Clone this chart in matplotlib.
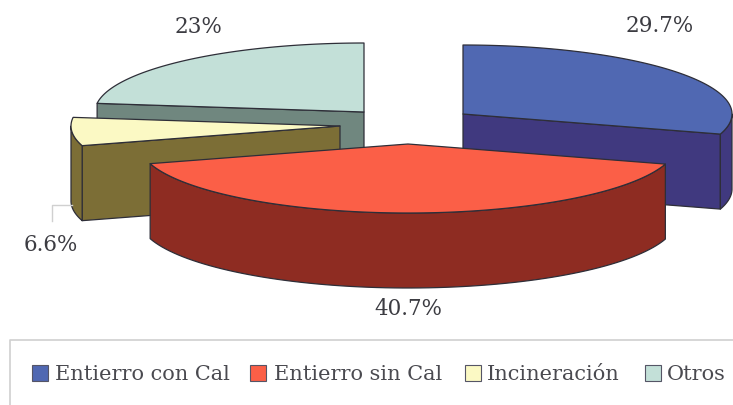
import numpy as np
import matplotlib
matplotlib.use('Agg')
import matplotlib.pyplot as plt
from matplotlib.patches import Polygon, Rectangle

# Datos
categories = ['Entierro con Cal', 'Entierro sin Cal', 'Incineración', 'Otros']
values = [29.7, 40.7, 6.6, 23.0]
value_labels = ['29.7%', '40.7%', '6.6%', '23%']

# Estilo del pastel
top_colors = ['#5068b2', '#fb5f47', '#fbf9c4', '#c3e0d8']
wall_colors = ['#40397f', '#8e2c22', '#7c6e36', '#70877f']
apexes = [(463, 115), (408, 145), (340, 127), (364, 113)]
label_pos = [(660, 26), (408, 309), (51, 245), (199, 27)]
swatch_x = [32, 250, 465, 645]
text_x = [55, 274, 487, 667]
draw_order = [3, 0, 2, 1]
RX, RY, DEPTH = 269, 69, 75

fig = plt.figure(figsize=(7.33, 4.06), dpi=100)
ax = fig.add_axes([0, 0, 1, 1])
ax.set_xlim(0, 733)
ax.set_ylim(406, 0)
ax.axis('off')


def rim(apex, deg):
    t = np.radians(deg)
    return np.column_stack([apex[0] + RX * np.sin(t), apex[1] - RY * np.cos(t)])


def draw_slice(i, start, end):
    apex = apexes[i]
    drop = np.array([0, DEPTH])
    edge = dict(edgecolor='#2e2e38', linewidth=0.9, joinstyle='round')
    # paredes rectas que miran al frente
    for deg, normal in ((start, start - 90), (end, end + 90)):
        if np.cos(np.radians(normal)) < -0.01:
            p = rim(apex, np.array([deg]))[0]
            ax.add_patch(Polygon([apex, p, p + drop, np.array(apex) + drop],
                                 facecolor=wall_colors[i], **edge))
    # pared curva
    lo, hi = max(start, 90), min(end, 270)
    if hi > lo:
        arc = rim(apex, np.linspace(lo, hi, 80))
        ax.add_patch(Polygon(np.vstack([arc, (arc + drop)[::-1]]),
                             facecolor=wall_colors[i], **edge))
    # cara superior
    arc = rim(apex, np.linspace(start, end, 120))
    ax.add_patch(Polygon(np.vstack([[apex], arc]), facecolor=top_colors[i], **edge))


bounds = np.concatenate([[0], np.cumsum(values)]) / np.sum(values) * 360
for i in draw_order:
    draw_slice(i, bounds[i], bounds[i + 1])

for lab, (x, y) in zip(value_labels, label_pos):
    ax.text(x, y, lab, family='DejaVu Serif', fontsize=15.5, color='#3c3c42',
            ha='center', va='center')

# linea guia de 6.6%
ax.plot([72, 52, 52], [206, 206, 222], color='#d0d0d0', lw=1)

# leyenda recortada por el borde, como en el original
ax.plot([733, 10, 10], [341, 341, 406], color='#d0d0d0', lw=1.2)
for i, name in enumerate(categories):
    ax.add_patch(Rectangle((swatch_x[i], 366), 16, 16, facecolor=top_colors[i],
                           edgecolor='#555566', linewidth=0.8))
    ax.text(text_x[i], 375, name, family='DejaVu Serif', fontsize=15, color='#4a4a50',
            ha='left', va='center')

fig.savefig('out.png', dpi=100)
